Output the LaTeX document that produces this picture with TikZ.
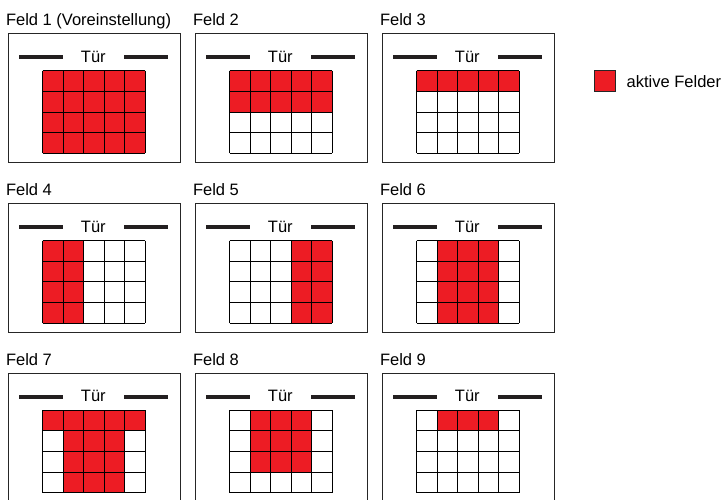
\documentclass[tikz,border=0pt]{standalone}
\usepackage{fontspec}
\setmainfont{Liberation Sans}
\usepackage{tikz}
\usetikzlibrary{positioning}
\definecolor{feldred}{RGB}{237,28,36}
\definecolor{doorgray}{RGB}{35,31,32}

\begin{document}
\begin{tikzpicture}[
  x=1pt, y=-1pt,
  room/.style={draw=black!85, line width=1pt},
  door/.style={draw=doorgray, line width=4pt},
  cellline/.style={draw=black, line width=1pt},
  activecell/.style={fill=feldred},
  label/.style={inner sep=0pt, font=\fontsize{16.5}{19}\selectfont}
]
  \useasboundingbox (0,0) rectangle (724,499);
  \clip (0,0) rectangle (724,499);

  % Panels: number / column / row / title / active cells (c1/r1/c2/r2)
  \foreach \n/\col/\row/\ttl/\cells in {
      1/0/0/{Feld 1 (Voreinstellung)}/{0/0/5/4},
      2/1/0/{Feld 2}/{0/0/5/2},
      3/2/0/{Feld 3}/{0/0/5/1},
      4/0/1/{Feld 4}/{0/0/2/4},
      5/1/1/{Feld 5}/{3/0/5/4},
      6/2/1/{Feld 6}/{1/0/4/4},
      7/0/2/{Feld 7}/{0/0/5/1,1/1/4/4},
      8/1/2/{Feld 8}/{1/0/4/3},
      9/2/2/{Feld 9}/{1/0/4/1}} {
    \begin{scope}[shift={(8.3+187*\col, 33.7+169.8*\row)}]
      % Title and room
      \node[label, anchor=base west] (title\n) at (-2.5,-8) {\ttl};
      \draw[room] (0,0) rectangle (172,128.6);
      % Door
      \node[label, anchor=base] (door\n) at (85,28.6) {Tür};
      \draw[door] (11,23.6) -- (55,23.6);
      \draw[door] (116,23.6) -- (160,23.6);
      % Field grid
      \begin{scope}[shift={(34.4,37)}, x=20.46pt, y=-20.65pt]
        \foreach \ca/\ra/\cb/\rb in \cells
          \fill[activecell] (\ca,\ra) rectangle (\cb,\rb);
        \foreach \i in {0,...,5}
          \draw[cellline] (\i,0) -- (\i,4);
        \foreach \j in {0,...,4}
          \draw[cellline] (0,\j) -- (5,\j);
      \end{scope}
    \end{scope}
  }

  % Legend
  \draw[activecell, draw=black!85, line width=0.8pt] (594.3,70.7) rectangle (615.7,91);
  \node[label, anchor=base west] (legend) at (626.5,87.3) {aktive Felder};
\end{tikzpicture}
\end{document}
